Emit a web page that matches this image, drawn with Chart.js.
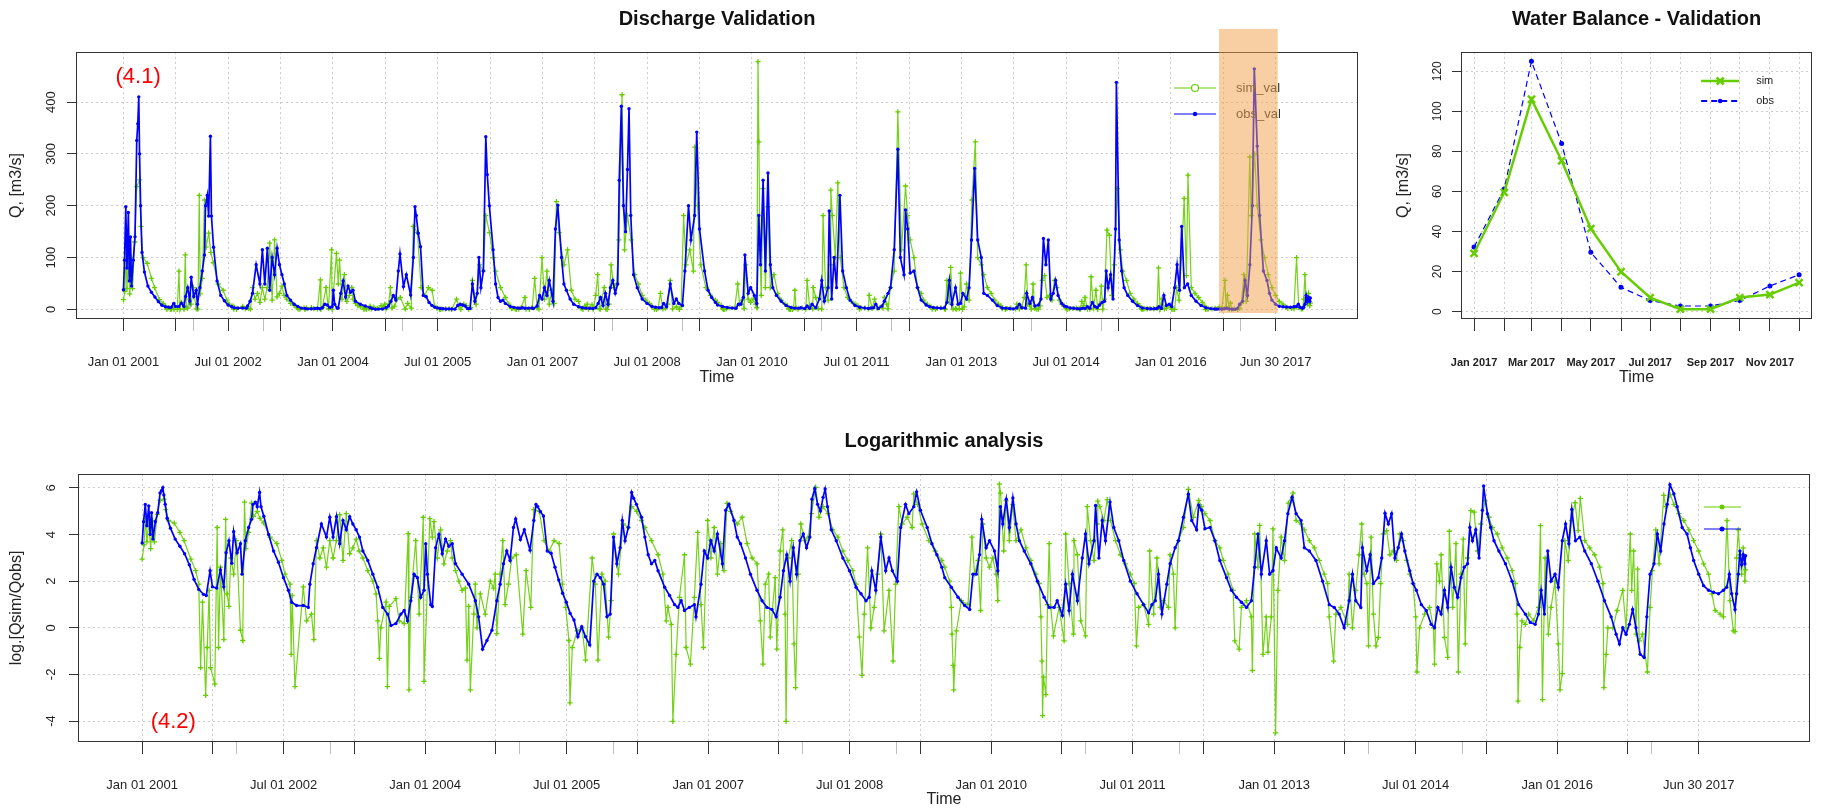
<!DOCTYPE html>
<html><head><meta charset="utf-8">
<script src="https://cdn.jsdelivr.net/npm/chart.js@4.4.1/dist/chart.umd.min.js"></script>
<style>
html,body{margin:0;padding:0;background:#fff;}
body{width:1825px;height:808px;position:relative;overflow:hidden;}
canvas{position:absolute;}
</style></head><body>
<canvas id="c1" width="1400" height="400" style="left:0;top:0"></canvas>
<canvas id="c2" width="445" height="400" style="left:1380px;top:0"></canvas>
<canvas id="c3" width="1825" height="400" style="left:0;top:408px"></canvas>
<script>
// ---------------- data ----------------
// daily discharge: [decimal year, Q m3/s]
const obsSeries = [
[2001.000,38],[2001.015,95],[2001.033,198],[2001.050,80],[2001.070,187],[2001.085,55],[2001.100,140],[2001.115,45],[2001.140,95],[2001.165,140],[2001.190,326],[2001.205,358],[2001.219,410],[2001.230,300],[2001.245,200],[2001.265,110],[2001.300,72],[2001.350,45],[2001.400,33],[2001.450,24],[2001.500,15],[2001.550,8],[2001.600,5.2],[2001.650,4.2],[2001.680,4.0],[2001.720,11.6],[2001.745,5.8],[2001.790,5.5],[2001.830,12],[2001.865,5.8],[2001.890,25],[2001.920,42],[2001.950,16],[2001.970,62],
[2002.007,25],[2002.042,37],[2002.059,10],[2002.094,42],[2002.129,74],[2002.160,105],[2002.175,200],[2002.200,220],[2002.220,180],[2002.245,334],[2002.260,180],[2002.290,120],[2002.340,55],[2002.393,27],[2002.445,16.6],[2002.498,8.6],[2002.550,5],[2002.585,3],[2002.638,2.6],[2002.708,2.6],[2002.761,2.4],[2002.778,6.5],[2002.813,15.6],[2002.848,31],[2002.900,86],[2002.954,49],[2002.989,115],
[2003.024,49],[2003.060,118],[2003.094,37],[2003.129,100],[2003.164,67],[2003.200,118],[2003.234,86],[2003.269,67],[2003.304,49],[2003.340,27],[2003.392,18],[2003.445,10],[2003.497,5.7],[2003.550,2.4],[2003.603,1.8],[2003.638,1.1],[2003.690,1.2],[2003.743,1.8],[2003.778,2.1],[2003.813,1.35],[2003.848,3.2],[2003.883,10],[2003.918,8.6],[2003.953,3.7],[2003.988,5],
[2004.006,37],[2004.024,10],[2004.059,2.7],[2004.076,2.5],[2004.111,31],[2004.146,55],[2004.181,24],[2004.216,45],[2004.251,33],[2004.287,37],[2004.322,15.6],[2004.392,10],[2004.462,6.5],[2004.532,3.2],[2004.567,1.6],[2004.609,0.4],[2004.655,0.58],[2004.708,0.9],[2004.760,3.2],[2004.795,6.5],[2004.830,15.6],[2004.865,27],[2004.900,18],[2004.936,74],[2004.960,107],
[2005.010,44],[2005.051,67],[2005.112,28],[2005.152,100],[2005.175,198],[2005.193,181],[2005.221,147],[2005.254,121],[2005.294,27],[2005.335,24.5],[2005.376,13.5],[2005.416,7.8],[2005.457,4.4],[2005.497,3.0],[2005.537,1.86],[2005.578,1.4],[2005.619,0.68],[2005.660,1.05],[2005.700,0.68],[2005.745,0.48],[2005.787,7.4],[2005.822,10],[2005.857,8.6],[2005.892,6.5],[2005.927,1.6],[2005.962,1.8],[2005.997,49],
[2006.032,15.6],[2006.067,31],[2006.090,100],[2006.119,42],[2006.154,74],[2006.189,333],[2006.210,260],[2006.240,200],[2006.294,115],[2006.329,49],[2006.364,23],[2006.399,15.6],[2006.434,18],[2006.469,11.6],[2006.539,5.7],[2006.591,4],[2006.644,2.7],[2006.679,2.4],[2006.714,3.2],[2006.749,2.1],[2006.800,2.4],[2006.854,2.7],[2006.871,1.6],[2006.924,6.5],[2006.959,27],[2006.994,20],
[2007.029,42],[2007.064,27],[2007.098,56],[2007.151,15.6],[2007.186,155],[2007.220,201],[2007.273,100],[2007.308,49],[2007.343,37],[2007.396,20],[2007.448,10],[2007.518,5],[2007.571,3.2],[2007.623,2.4],[2007.676,2.2],[2007.721,1.6],[2007.763,3.7],[2007.798,11.6],[2007.833,23],[2007.868,7.4],[2007.903,31],[2007.938,10],[2007.973,42],
[2008.008,56],[2008.043,31],[2008.078,49],[2008.100,249],[2008.130,392],[2008.160,200],[2008.190,150],[2008.218,270],[2008.240,387],[2008.265,181],[2008.305,67],[2008.358,42],[2008.428,20],[2008.498,11.6],[2008.568,5.7],[2008.620,4.3],[2008.673,3.2],[2008.707,3.7],[2008.735,11.6],[2008.777,5],[2008.830,49],[2008.882,11.6],[2008.917,20],[2008.952,11.6],
[2009.005,7.4],[2009.040,74],[2009.092,200],[2009.127,134],[2009.180,181],[2009.210,342],[2009.250,155],[2009.322,74],[2009.372,37],[2009.424,23],[2009.477,13.5],[2009.508,8.6],[2009.578,5.7],[2009.649,3.7],[2009.719,2.6],[2009.772,2.2],[2009.807,10],[2009.842,10],[2009.877,23],[2009.900,105],[2009.947,31],[2009.982,42],
[2010.035,27],[2010.070,11.6],[2010.098,181],[2010.123,86],[2010.160,249],[2010.193,74],[2010.230,263],[2010.264,86],[2010.299,42],[2010.351,27],[2010.420,15.6],[2010.490,7.4],[2010.562,3.7],[2010.615,2.4],[2010.668,2.4],[2010.700,3.2],[2010.755,1.7],[2010.790,6.5],[2010.826,2.1],[2010.861,10],[2010.914,3.2],[2010.966,20],
[2011.000,56],[2011.037,15.6],[2011.090,42],[2011.107,190],[2011.142,20],[2011.177,100],[2011.212,42],[2011.260,220],[2011.300,74],[2011.353,42],[2011.405,18],[2011.476,7.4],[2011.546,4.3],[2011.616,2.7],[2011.669,1.9],[2011.704,2.7],[2011.740,3.2],[2011.774,10],[2011.810,1.8],[2011.862,6.5],[2011.897,15.6],[2011.950,31],[2011.985,42],
[2012.038,115],[2012.090,309],[2012.126,100],[2012.178,67],[2012.200,192],[2012.231,155],[2012.266,70],[2012.320,74],[2012.372,42],[2012.424,18],[2012.495,8.6],[2012.547,5],[2012.600,3.7],[2012.653,3],[2012.706,2.4],[2012.758,3.2],[2012.793,13.5],[2012.828,56],[2012.864,10],[2012.916,42],[2012.952,10],[2012.987,11.6],
[2013.022,31],[2013.074,20],[2013.110,42],[2013.145,134],[2013.190,272],[2013.233,134],[2013.285,100],[2013.320,31],[2013.373,27],[2013.443,18],[2013.513,7.4],[2013.584,2.7],[2013.637,2.4],[2013.689,1.8],[2013.742,1.0],[2013.795,3.2],[2013.830,10],[2013.865,3.2],[2013.918,2.4],[2013.935,31],[2013.982,11.6],
[2014.017,23],[2014.052,6.7],[2014.104,8.6],[2014.140,20],[2014.175,137],[2014.210,86],[2014.245,134],[2014.280,20],[2014.315,31],[2014.350,56],[2014.385,27],[2014.437,11.6],[2014.472,6.7],[2014.507,5],[2014.560,2.7],[2014.612,2.1],[2014.664,1.16],[2014.700,1.0],[2014.735,2.4],[2014.770,1.8],[2014.805,5],[2014.840,2.4],[2014.875,13.5],[2014.910,5.7],[2014.945,3.7],[2014.980,8.6],
[2015.015,13.5],[2015.050,15.6],[2015.074,74],[2015.102,42],[2015.137,67],[2015.172,20],[2015.207,155],[2015.220,438],[2015.260,134],[2015.295,74],[2015.330,42],[2015.382,27],[2015.452,15.6],[2015.522,7.4],[2015.592,2.7],[2015.662,1.8],[2015.715,1.26],[2015.767,1.16],[2015.802,1.8],[2015.830,5],[2015.865,1.8],[2015.900,27],[2015.935,7.4],[2015.977,10],
[2016.012,5.7],[2016.054,42],[2016.089,86],[2016.124,37],[2016.155,160],[2016.194,42],[2016.240,49],[2016.292,27],[2016.362,15.6],[2016.432,7.4],[2016.502,3.2],[2016.572,1.6],[2016.625,0.76],[2016.660,0.5],[2016.695,1.0],[2016.730,0.76],[2016.765,1.16],[2016.800,2.2],[2016.835,1.0],[2016.880,0.32],[2016.922,0.28],[2016.950,1.6],[2016.985,10],
[2017.027,15.6],[2017.062,56],[2017.097,27],[2017.132,86],[2017.167,200],[2017.195,464],[2017.237,315],[2017.272,181],[2017.325,74],[2017.377,56],[2017.412,31],[2017.447,18],[2017.500,10],[2017.552,6.1],[2017.605,5],[2017.657,4.6],[2017.710,4.3],[2017.762,5],[2017.797,5.7],[2017.825,10],[2017.850,4.3],[2017.885,2.2],[2017.902,4.3],[2017.920,10],[2017.937,27],[2017.955,15],[2017.972,23],[2017.990,15.6],[2017.997,22]
];
const simSeries = [
[2001.000,19],[2001.020,35],[2001.035,110],[2001.050,40],[2001.070,95],[2001.090,30],[2001.110,100],[2001.130,40],[2001.160,130],[2001.190,237],[2001.233,250],[2001.250,160],[2001.280,100],[2001.340,89],[2001.400,60],[2001.445,42],[2001.516,19],[2001.568,11.6],[2001.600,6.5],[2001.620,0.18],[2001.640,3.0],[2001.673,0.055],[2001.690,0.43],[2001.710,5.0],[2001.725,0.18],[2001.770,0.09],[2001.795,74],[2001.810,0.43],[2001.830,13.5],[2001.866,0.6],[2001.885,105],[2001.900,4.3],[2001.920,2.5],[2001.940,20],[2001.970,10],[2002.000,42],
[2002.042,0.9],[2002.066,0.58],[2002.085,220],[2002.100,30],[2002.129,60],[2002.160,211],[2002.182,120],[2002.220,147],[2002.250,110],[2002.287,90],[2002.357,49],[2002.428,37],[2002.480,18],[2002.515,10],[2002.568,6.5],[2002.580,0.32],[2002.590,4],[2002.620,0.08],[2002.708,5.8],[2002.743,1.35],[2002.795,1.8],[2002.820,0.6],[2002.848,42],[2002.884,20],[2002.919,31],[2002.954,13.5],[2002.989,42],
[2003.024,20],[2003.059,42],[2003.094,128],[2003.129,18],[2003.164,134],[2003.200,24],[2003.234,31],[2003.270,45],[2003.300,27],[2003.340,20],[2003.392,11.6],[2003.445,7.4],[2003.480,4.3],[2003.497,1.35],[2003.515,0.27],[2003.530,1.0],[2003.585,3.0],[2003.600,0.08],[2003.620,2.5],[2003.690,3.5],[2003.725,1.35],[2003.778,1.2],[2003.820,57],[2003.828,0.07],[2003.848,3.7],[2003.900,42],[2003.936,1.8],[2003.980,115],[2003.988,0.1],
[2004.050,108],[2004.076,49],[2004.094,95],[2004.129,20],[2004.164,67],[2004.199,15.6],[2004.234,27],[2004.269,42],[2004.287,20],[2004.322,11.6],[2004.357,7.4],[2004.392,5],[2004.427,5.5],[2004.444,0.25],[2004.462,2.5],[2004.479,0.07],[2004.515,1.8],[2004.532,6.5],[2004.550,1.0],[2004.585,4.3],[2004.637,1.8],[2004.690,7.4],[2004.725,5.5],[2004.743,10],[2004.760,0.78],[2004.795,10],[2004.823,42],[2004.847,2.7],[2004.883,6.5],[2004.918,20],[2004.965,23],
[2005.035,0.76],[2005.070,11.6],[2005.120,2.4],[2005.150,160],[2005.210,148],[2005.262,42],[2005.315,27],[2005.367,42],[2005.420,37],[2005.455,6.5],[2005.490,2.4],[2005.524,0.58],[2005.535,0.04],[2005.560,0.43],[2005.612,0.88],[2005.664,1.0],[2005.700,0.25],[2005.770,20],[2005.804,6.5],[2005.832,0.25],[2005.874,10],[2005.909,7.4],[2005.944,0.67],[2005.972,3.2],[2005.997,56],
[2006.049,10],[2006.100,86],[2006.154,74],[2006.189,181],[2006.242,148],[2006.294,100],[2006.329,74],[2006.400,42],[2006.469,23],[2006.520,10],[2006.556,1.35],[2006.574,2.4],[2006.609,1.16],[2006.626,0.018],[2006.660,0.32],[2006.696,3.7],[2006.749,23],[2006.766,0.43],[2006.812,0.21],[2006.854,3.7],[2006.889,60],[2006.924,2.7],[2006.950,0.43],[2006.994,100],
[2007.029,20],[2007.064,74],[2007.098,10],[2007.133,37],[2007.168,11.6],[2007.200,208],[2007.238,148],[2007.308,86],[2007.360,115],[2007.413,37],[2007.466,20],[2007.518,15.6],[2007.553,1.35],[2007.581,0.21],[2007.606,6.5],[2007.641,10],[2007.658,0.67],[2007.710,8.6],[2007.728,0.4],[2007.763,27],[2007.791,67],[2007.816,1.8],[2007.826,0.018],[2007.850,20],[2007.885,42],[2007.910,0.5],[2007.927,0.077],[2007.955,10],[2007.983,86],
[2008.025,42],[2008.060,49],[2008.095,134],[2008.140,414],[2008.175,115],[2008.218,181],[2008.270,134],[2008.322,67],[2008.375,49],[2008.428,27],[2008.480,18],[2008.533,11.6],[2008.568,6.5],[2008.603,0.67],[2008.631,0.13],[2008.655,1.8],[2008.690,31],[2008.725,1.0],[2008.760,2.4],[2008.795,10],[2008.830,56],[2008.865,0.88],[2008.917,5],[2008.960,0.24],[2008.987,6.5],
[2009.022,181],[2009.057,86],[2009.110,115],[2009.162,74],[2009.180,313],[2009.220,200],[2009.269,86],[2009.340,42],[2009.407,27],[2009.477,18],[2009.508,13.5],[2009.560,7.4],[2009.578,2.4],[2009.585,0.76],[2009.596,0.2],[2009.603,0.07],[2009.631,0.88],[2009.684,3.2],[2009.754,2.7],[2009.796,49],[2009.824,10],[2009.860,18],[2009.888,2.1],[2009.912,86],[2009.947,20],[2009.982,13.5],
[2010.018,20],[2010.053,10],[2010.070,3.2],[2010.087,478],[2010.100,323],[2010.115,115],[2010.133,27],[2010.158,233],[2010.193,42],[2010.228,198],[2010.264,42],[2010.316,67],[2010.369,31],[2010.420,18],[2010.474,10],[2010.510,6.7],[2010.527,1.6],[2010.538,0.24],[2010.545,0.023],[2010.555,0.12],[2010.580,0.057],[2010.597,2.7],[2010.615,37],[2010.632,2.4],[2010.660,0.71],[2010.720,2.4],[2010.773,0.57],[2010.790,56],[2010.826,6.7],[2010.871,0.76],[2010.878,42],[2010.914,23],[2010.950,1.35],
[2011.000,0.71],[2011.019,181],[2011.054,42],[2011.090,18],[2011.124,86],[2011.130,230],[2011.152,181],[2011.195,100],[2011.230,244],[2011.265,100],[2011.318,42],[2011.370,23],[2011.423,15.6],[2011.476,10],[2011.518,6.7],[2011.540,0.46],[2011.564,2.4],[2011.616,2.7],[2011.669,1.16],[2011.680,27],[2011.722,1.8],[2011.757,20],[2011.792,2.4],[2011.827,3.2],[2011.880,2.4],[2011.897,23],[2011.932,10],[2011.950,1.0],[2011.985,42],
[2012.038,74],[2012.090,381],[2012.143,115],[2012.200,238],[2012.230,181],[2012.266,134],[2012.320,100],[2012.372,42],[2012.424,31],[2012.460,18],[2012.512,10],[2012.565,5],[2012.582,0.57],[2012.628,0.4],[2012.653,2.4],[2012.706,3.2],[2012.758,1.6],[2012.769,0.16],[2012.793,56],[2012.828,13.5],[2012.846,81],[2012.881,0.32],[2012.916,1.6],[2012.934,0.35],[2012.970,1.6],[2012.987,70],
[2013.015,0.011],[2013.040,5],[2013.074,49],[2013.110,18],[2013.150,211],[2013.200,323],[2013.233,100],[2013.285,86],[2013.320,67],[2013.373,42],[2013.426,31],[2013.478,18],[2013.531,10],[2013.566,6.7],[2013.584,1.6],[2013.630,0.24],[2013.654,1.8],[2013.707,2.4],[2013.777,1.16],[2013.795,10],[2013.830,1.0],[2013.865,5],[2013.900,23],[2013.928,86],[2013.953,10],[2013.982,6.7],
[2014.000,0.46],[2014.027,49],[2014.052,1.8],[2014.080,0.46],[2014.104,0.66],[2014.129,6.7],[2014.157,56],[2014.192,65],[2014.227,23],[2014.262,27],[2014.297,18],[2014.332,56],[2014.367,42],[2014.402,18],[2014.437,10],[2014.472,6.7],[2014.500,1.6],[2014.514,0.15],[2014.542,1.0],[2014.595,1.8],[2014.647,2.4],[2014.689,1.0],[2014.700,0.21],[2014.724,15.6],[2014.752,7.4],[2014.770,23],[2014.805,0.66],[2014.840,0.28],[2014.857,63],[2014.892,2.4],[2014.927,37],[2014.952,0.15],[2014.980,10],
[2015.004,45],[2015.025,0.5],[2015.050,20],[2015.085,153],[2015.120,143],[2015.155,27],[2015.190,86],[2015.235,233],[2015.277,115],[2015.312,74],[2015.365,56],[2015.417,31],[2015.470,20],[2015.522,11.6],[2015.557,6.7],[2015.575,1.8],[2015.585,0.043],[2015.603,0.43],[2015.627,1.35],[2015.662,1.16],[2015.697,1.8],[2015.750,1.35],[2015.802,2.4],[2015.823,80],[2015.844,0.046],[2015.872,20],[2015.907,0.76],[2015.935,2.4],[2015.977,7.4],
[2016.012,0.5],[2016.030,0.07],[2016.054,0.14],[2016.082,42],[2016.117,18],[2016.152,100],[2016.190,214],[2016.222,65],[2016.245,259],[2016.292,42],[2016.345,31],[2016.397,23],[2016.450,13.5],[2016.485,6.7],[2016.495,0.077],[2016.520,0.32],[2016.537,1.0],[2016.590,1.0],[2016.635,2.1],[2016.695,5],[2016.730,1.0],[2016.775,56],[2016.790,5],[2016.810,27],[2016.835,0.76],[2016.853,12.4],[2016.870,0.57],[2016.905,0.76],[2016.957,0.15],[2016.985,2.4],
[2017.010,11.6],[2017.045,67],[2017.080,15.6],[2017.130,294],[2017.150,181],[2017.200,300],[2017.237,200],[2017.290,134],[2017.342,100],[2017.395,67],[2017.447,42],[2017.500,27],[2017.552,15.6],[2017.605,10],[2017.640,4.3],[2017.675,2.1],[2017.727,1.8],[2017.762,1.6],[2017.800,100],[2017.832,3.2],[2017.867,0.88],[2017.885,0.85],[2017.902,20],[2017.920,67],[2017.937,23],[2017.955,10],[2017.972,31],[2017.990,7.4],[2017.997,12]
];

// monthly water balance 2017
const wbMonths = ['2017-01-01','2017-02-01','2017-03-01','2017-04-01','2017-05-01','2017-06-01','2017-07-01','2017-08-01','2017-09-01','2017-10-01','2017-11-01','2017-12-01'];
const wbSim = [29.1, 59.5, 106, 75.3, 41.4, 19.9, 7.0, 1.2, 1.2, 7.0, 8.5, 14.5];
const wbObs = [32.2, 61.2, 125, 83.9, 29.6, 12.1, 5.5, 2.8, 2.8, 5.5, 12.8, 18.4];
const wbTickLabels = ['Jan 2017','','Mar 2017','','May 2017','','Jul 2017','','Sep 2017','','Nov 2017',''];
const wbYTicks = [0,20,40,60,80,100,120];

// time axis ticks (decimal years)
const majorTicks = [2001,2001.75,2002.5,2003.25,2004,2004.75,2005.5,2006.25,2007,2007.75,2008.5,2009.25,2010,2010.75,2011.5,2012.25,2013,2013.75,2014.5,2015.25,2016,2016.75,2017.5];
const majorLabels = ['Jan 01 2001','','Jul 01 2002','','Jan 01 2004','','Jul 01 2005','','Jan 01 2007','','Jul 01 2008','','Jan 01 2010','','Jul 01 2011','','Jan 01 2013','','Jul 01 2014','','Jan 01 2016','','Jun 30 2017'];
const yearTicks = [2002,2003,2005,2006,2008,2009,2011,2012,2014,2015,2017];
const qTicks = [0,100,200,300,400];
const logTicks = [-4,-2,0,2,4,6];

// axis ranges and annotations (data units)
const X_RANGE = [2000.32, 2018.68];
const Q_RANGE = [-18.5, 496.5];
const LOG_RANGE = [-4.9, 6.6];
const WB_Y_RANGE = [-3.7, 129.6];
const WB_X_RANGE = [-13.4, 347.4];
const highlightPeriod = [2016.69, 2017.53];
const highlightQ = [-7, 541];
const tag41 = [2001.21, 449];
const tag42 = [2001.33, -4.06];

// ---------------- helpers ----------------
const FONT = '"Liberation Sans", Arial, Helvetica, sans-serif';
Chart.defaults.font.family = FONT;
Chart.defaults.color = '#222';
const GREEN = '#66cd00', BLUE = '#0000ff', GRID = '#cdcdcd', AXIS = '#333';

const allXTicks = majorTicks.concat(yearTicks).sort((a, b) => a - b);
const isMinor = v => yearTicks.includes(v);
const labelFor = v => { const i = majorTicks.indexOf(v); return i >= 0 ? majorLabels[i] : ''; };
const dayOf = s => { const [y, m, d] = s.split('-').map(Number); return (Date.UTC(y, m - 1, d) - Date.UTC(2017, 0, 1)) / 86400000; };
const wbDays = wbMonths.map(dayOf);

function timeAxis(h, labelPad, titlePadBottom, titleLH) {
  return {
    type: 'linear', position: 'bottom', min: X_RANGE[0], max: X_RANGE[1],
    afterBuildTicks: s => { s.ticks = allXTicks.map(v => ({ value: v })); },
    afterFit: s => { s.height = h; },
    ticks: { autoSkip: false, maxRotation: 0, minRotation: 0, padding: labelPad, color: '#222', font: { size: 13 }, callback: v => labelFor(v) },
    grid: {
      color: c => (c.tick && isMinor(c.tick.value)) ? 'rgba(0,0,0,0)' : GRID,
      tickColor: c => (c.tick && isMinor(c.tick.value)) ? '#bdbdbd' : AXIS,
      tickLength: 12, tickBorderDash: []
    },
    border: { display: false, dash: [2, 3] },
    title: { display: true, text: 'Time', color: '#222', font: { size: 16, lineHeight: titleLH }, padding: { top: 0, bottom: titlePadBottom } }
  };
}
function valueAxis(range, ticksArr, w, labelPad, fs, text, titlePadTop) {
  return {
    type: 'linear', position: 'left', min: range[0], max: range[1],
    afterBuildTicks: s => { s.ticks = ticksArr.map(v => ({ value: v })); },
    afterFit: s => { s.width = w; },
    ticks: { minRotation: 90, maxRotation: 90, crossAlign: 'center', padding: labelPad, color: '#222', font: { size: fs }, callback: v => String(v) },
    grid: { color: GRID, tickColor: AXIS, tickLength: 9, tickBorderDash: [] },
    border: { display: false, dash: [2, 3] },
    title: { display: true, text: text, color: '#222', font: { size: 16 }, padding: { top: titlePadTop, bottom: 0 } }
  };
}
function titleOpts(text, padTop, padBottom) {
  return { display: true, text: text, fullSize: false, color: '#111', font: { size: 20, weight: 'bold' }, padding: { top: padTop, bottom: padBottom } };
}
function drawBox(chart) {
  const { ctx, chartArea: a } = chart;
  ctx.save(); ctx.strokeStyle = AXIS; ctx.lineWidth = 1;
  ctx.strokeRect(Math.round(a.left) + 0.5, Math.round(a.top) + 0.5, Math.round(a.right - a.left) - 1, Math.round(a.bottom - a.top) - 1);
  ctx.restore();
}
const blueStyle = { borderColor: BLUE, backgroundColor: BLUE, borderWidth: 1.7, pointStyle: 'circle', pointRadius: 1.7, pointBackgroundColor: BLUE, pointBorderWidth: 0, tension: 0 };
const greenStyle = { borderColor: 'rgba(102,205,0,0.9)', backgroundColor: GREEN, borderWidth: 1.2, pointStyle: 'cross', pointRadius: 2.6, pointBorderColor: GREEN, pointBorderWidth: 1.3, tension: 0 };

// ---------------- chart 1: discharge ----------------
new Chart(document.getElementById('c1'), {
  type: 'line',
  data: { datasets: [
    Object.assign({ label: 'obs_val', data: obsSeries.map(p => ({ x: p[0], y: p[1] })) }, blueStyle),
    Object.assign({ label: 'sim_val', data: simSeries.map(p => ({ x: p[0], y: p[1] })) }, greenStyle)
  ] },
  options: {
    responsive: false, animation: false, devicePixelRatio: 1,
    layout: { padding: { left: 0, right: 42, top: 0, bottom: 0 } },
    plugins: { legend: { display: false }, tooltip: { enabled: false }, title: titleOpts('Discharge Validation', 7, 21) },
    scales: { x: timeAxis(81, 23.5, 12.4, 1.2), y: valueAxis(Q_RANGE, qTicks, 76, 4.5, 13, 'Q, [m3/s]', 7.4) }
  },
  plugins: [{ id: 'discharge', afterDatasetsDraw(chart) {
    drawBox(chart);
    const { ctx, chartArea: a, scales: { x, y } } = chart;
    const ds = chart.data.datasets;
    ctx.save();
    [{ d: ds[1], dy: 36, open: true }, { d: ds[0], dy: 62, open: false }].forEach(it => {
      const yy = a.top + it.dy, col = it.open ? GREEN : BLUE;
      ctx.strokeStyle = col; ctx.lineWidth = 1.2; ctx.setLineDash([]);
      ctx.beginPath(); ctx.moveTo(a.right - 184, yy); ctx.lineTo(a.right - 142, yy); ctx.stroke();
      ctx.beginPath(); ctx.arc(a.right - 163, yy, it.open ? 3.5 : 2.2, 0, Math.PI * 2);
      if (it.open) { ctx.fillStyle = '#fff'; ctx.fill(); ctx.stroke(); } else { ctx.fillStyle = col; ctx.fill(); }
      ctx.fillStyle = '#333'; ctx.font = '13px ' + FONT; ctx.textAlign = 'left'; ctx.textBaseline = 'middle';
      ctx.fillText(it.d.label, a.right - 122, yy);
    });
    const x0 = x.getPixelForValue(highlightPeriod[0]), x1 = x.getPixelForValue(highlightPeriod[1]);
    const y0 = y.getPixelForValue(highlightQ[1]), y1 = y.getPixelForValue(highlightQ[0]);
    ctx.fillStyle = 'rgba(240,160,70,0.5)'; ctx.fillRect(x0, y0, x1 - x0, y1 - y0);
    ctx.fillStyle = '#ff0000'; ctx.font = '22px ' + FONT; ctx.textAlign = 'center'; ctx.textBaseline = 'middle';
    ctx.fillText('(4.1)', x.getPixelForValue(tag41[0]), y.getPixelForValue(tag41[1]));
    ctx.restore();
  } }]
});

// ---------------- chart 2: water balance ----------------
new Chart(document.getElementById('c2'), {
  type: 'line',
  data: { datasets: [
    { label: 'sim', data: wbDays.map((d, i) => ({ x: d, y: wbSim[i] })), borderColor: GREEN, backgroundColor: GREEN, borderWidth: 2.5, pointStyle: 'crossRot', pointRadius: 5, pointBorderColor: GREEN, pointBorderWidth: 2.5, tension: 0 },
    { label: 'obs', data: wbDays.map((d, i) => ({ x: d, y: wbObs[i] })), borderColor: BLUE, backgroundColor: BLUE, borderWidth: 1.2, borderDash: [6, 4], pointStyle: 'circle', pointRadius: 2.5, pointBackgroundColor: BLUE, pointBorderWidth: 0, tension: 0 }
  ] },
  options: {
    responsive: false, animation: false, devicePixelRatio: 1,
    layout: { padding: { left: 0, right: 5, top: 0, bottom: 0 } },
    plugins: { legend: { display: false }, tooltip: { enabled: false }, title: titleOpts('Water Balance - Validation', 7, 21) },
    scales: {
      x: {
        type: 'linear', min: WB_X_RANGE[0], max: WB_X_RANGE[1],
        afterBuildTicks: s => { s.ticks = wbDays.map(v => ({ value: v })); },
        afterFit: s => { s.height = 81; },
        ticks: { autoSkip: false, maxRotation: 0, minRotation: 0, padding: 25.4, color: '#222', font: { size: 11, weight: 'bold' }, callback: (v, i) => wbTickLabels[i] },
        grid: { color: GRID, tickColor: AXIS, tickLength: 12, tickBorderDash: [] },
        border: { display: false, dash: [2, 3] },
        title: { display: true, text: 'Time', color: '#222', font: { size: 16 }, padding: { top: 0, bottom: 12.4 } }
      },
      y: valueAxis(WB_Y_RANGE, wbYTicks, 81, 4, 12, 'Q, [m3/s]', 13.7)
    }
  },
  plugins: [{ id: 'wb', afterDatasetsDraw(chart) {
    drawBox(chart);
    const { ctx, chartArea: a } = chart;
    const ds = chart.data.datasets;
    ctx.save();
    let yy = a.top + 29;
    ctx.strokeStyle = GREEN; ctx.lineWidth = 2.5;
    ctx.beginPath(); ctx.moveTo(a.right - 111, yy); ctx.lineTo(a.right - 73, yy); ctx.stroke();
    const mx = a.right - 92;
    ctx.beginPath(); ctx.moveTo(mx - 3.5, yy - 3.5); ctx.lineTo(mx + 3.5, yy + 3.5); ctx.moveTo(mx - 3.5, yy + 3.5); ctx.lineTo(mx + 3.5, yy - 3.5); ctx.stroke();
    ctx.fillStyle = '#222'; ctx.font = '11px ' + FONT; ctx.textAlign = 'left'; ctx.textBaseline = 'middle';
    ctx.fillText(ds[0].label, a.right - 56, yy);
    yy = a.top + 49;
    ctx.strokeStyle = BLUE; ctx.lineWidth = 1.8; ctx.setLineDash([6, 4]);
    ctx.beginPath(); ctx.moveTo(a.right - 111, yy); ctx.lineTo(a.right - 73, yy); ctx.stroke();
    ctx.setLineDash([]);
    ctx.fillStyle = BLUE; ctx.beginPath(); ctx.arc(mx, yy, 2.3, 0, Math.PI * 2); ctx.fill();
    ctx.fillStyle = '#222'; ctx.fillText(ds[1].label, a.right - 56, yy);
    ctx.restore();
  } }]
});

// ---------------- chart 3: logarithmic analysis ----------------
new Chart(document.getElementById('c3'), {
  type: 'line',
  data: { datasets: [
    Object.assign({ label: '', data: obsSeries.map(p => ({ x: p[0], y: Math.log(p[1]) })) }, blueStyle),
    Object.assign({ label: '', data: simSeries.map(p => ({ x: p[0], y: Math.log(p[1]) })) }, greenStyle)
  ] },
  options: {
    responsive: false, animation: false, devicePixelRatio: 1,
    layout: { padding: { left: 0, right: 15, top: 0, bottom: 0 } },
    plugins: { legend: { display: false }, tooltip: { enabled: false }, title: titleOpts('Logarithmic analysis', 21, 21) },
    scales: { x: timeAxis(66, 23.2, 0, 1.0), y: valueAxis(LOG_RANGE, logTicks, 78, 11.5, 13, 'log.[Qsim/Qobs]', 7.4) }
  },
  plugins: [{ id: 'logp', afterDatasetsDraw(chart) {
    drawBox(chart);
    const { ctx, chartArea: a, scales: { x, y } } = chart;
    ctx.save();
    [{ c: GREEN, dy: 33 }, { c: BLUE, dy: 55 }].forEach(it => {
      const yy = a.top + it.dy;
      ctx.strokeStyle = it.c; ctx.lineWidth = 1.2;
      ctx.beginPath(); ctx.moveTo(a.right - 106, yy); ctx.lineTo(a.right - 69, yy); ctx.stroke();
      ctx.fillStyle = it.c; ctx.beginPath(); ctx.arc(a.right - 88, yy, 2.5, 0, Math.PI * 2); ctx.fill();
    });
    ctx.fillStyle = '#ff0000'; ctx.font = '22px ' + FONT; ctx.textAlign = 'center'; ctx.textBaseline = 'middle';
    ctx.fillText('(4.2)', x.getPixelForValue(tag42[0]), y.getPixelForValue(tag42[1]));
    ctx.restore();
  } }]
});
</script>
</body></html>
